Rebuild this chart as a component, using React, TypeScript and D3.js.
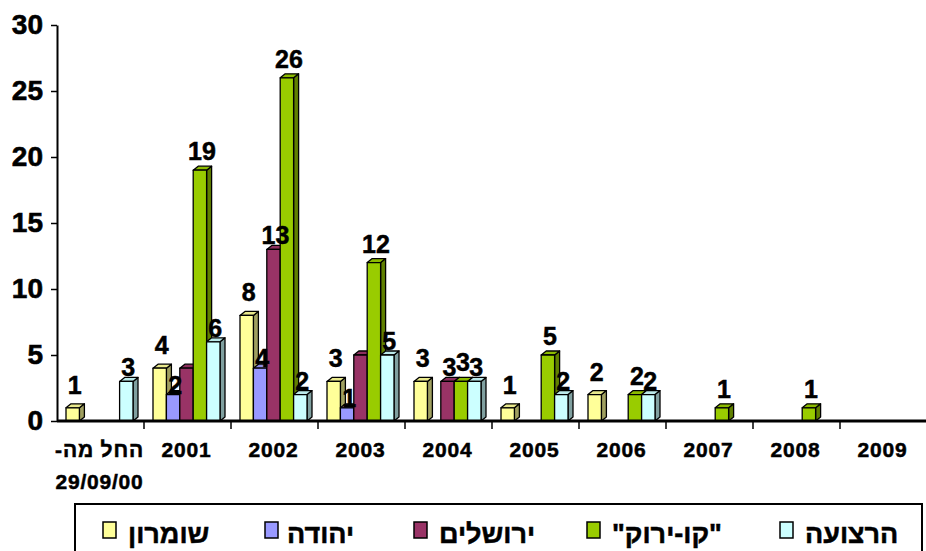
import React, { useRef, useEffect } from 'react';
import * as d3 from 'd3';

// categories (first one is two lines)
const categories = ['החל מה-\u200F\n29/09/00', '2001', '2002', '2003', '2004', '2005', '2006', '2007', '2008', '2009'];

const seriesNames = ['שומרון', 'יהודה', 'ירושלים', '"קו-ירוק"', 'הרצועה'];
const seriesColors = ['#FFFF99', '#9999FF', '#993366', '#99CC00', '#CCFFFF'];

const shomron = [1, 4, 8, 3, 3, 1, 2, 0, 0, 0];
const yehuda = [0, 2, 4, 1, 0, 0, 0, 0, 0, 0];
const yerushalayim = [0, 4, 13, 5, 3, 0, 0, 0, 0, 0];
const kavYarok = [0, 19, 26, 12, 3, 5, 2, 1, 1, 0];
const retzua = [3, 6, 2, 5, 3, 2, 2, 0, 0, 0];

const seriesValues = [shomron, yehuda, yerushalayim, kavYarok, retzua];

const yTicks = [0, 5, 10, 15, 20, 25, 30];

// labels that the source chart does not show
const hiddenLabels = [
  { cat: '2001', series: 'ירושלים' },
  { cat: '2003', series: 'ירושלים' }
];

const FONT = '"Liberation Sans", Arial, sans-serif';

const App: React.FC = () => {
  const svgRef = useRef<SVGSVGElement>(null);

  useEffect(() => {
    if (!svgRef.current) return;
    const svg = d3.select(svgRef.current);
    svg.selectAll('*').remove();

    const width = 926;
    const height = 551;
    const plot = { left: 57, right: 927, top: 25, bottom: 421 };
    const depth = { dx: 5, dy: 4 };

    svg.append('rect').attr('width', width).attr('height', height).attr('fill', '#fff');

    const x0 = d3.scaleBand<string>()
      .domain(categories)
      .range([plot.left, plot.right])
      .padding(0);

    const x1 = d3.scaleBand<string>()
      .domain(seriesNames)
      .range([9, 76])
      .padding(0);

    const y = d3.scaleLinear()
      .domain([0, 30])
      .range([plot.bottom, plot.top]);

    // y axis
    const yAxis = d3.axisLeft(y)
      .tickValues(yTicks)
      .tickSize(6)
      .tickSizeOuter(0)
      .tickPadding(8)
      .tickFormat(d3.format('d'));

    const yg = svg.append('g')
      .attr('transform', `translate(${plot.left},0)`)
      .call(yAxis);
    yg.select('.domain').attr('stroke', '#000').attr('stroke-width', 2);
    yg.selectAll('.tick line').attr('stroke', '#000').attr('stroke-width', 1.5);
    yg.selectAll('.tick text')
      .attr('fill', '#000')
      .attr('stroke', '#000')
      .attr('stroke-width', 0.6)
      .style('font-family', FONT)
      .style('font-weight', 'bold')
      .style('font-size', '28px');

    // bars
    const bars = svg.append('g');
    categories.forEach((cat, ci) => {
      seriesNames.forEach((name, si) => {
        const v = seriesValues[si][ci];
        if (!v) return;
        const bx = (x0(cat) || 0) + (x1(name) || 0);
        const bw = x1.bandwidth();
        const top = y(v);
        const base = y(0);
        const c = d3.color(seriesColors[si])!;
        const side = c.darker(1.3).formatHex();
        const topC = c.darker(0.25).formatHex();
        const g = bars.append('g')
          .attr('stroke', '#000')
          .attr('stroke-width', 1.3)
          .attr('stroke-linejoin', 'round');
        g.append('polygon')
          .attr('points', [
            [bx + bw, top], [bx + bw + depth.dx, top - depth.dy],
            [bx + bw + depth.dx, base - depth.dy], [bx + bw, base]
          ].map(p => p.join(',')).join(' '))
          .attr('fill', side);
        g.append('polygon')
          .attr('points', [
            [bx, top], [bx + depth.dx, top - depth.dy],
            [bx + bw + depth.dx, top - depth.dy], [bx + bw, top]
          ].map(p => p.join(',')).join(' '))
          .attr('fill', topC);
        g.append('rect')
          .attr('x', bx)
          .attr('y', top)
          .attr('width', bw)
          .attr('height', base - top)
          .attr('fill', seriesColors[si]);
      });
    });

    // x axis line + boundary ticks
    svg.append('line')
      .attr('x1', plot.left).attr('x2', plot.right)
      .attr('y1', plot.bottom).attr('y2', plot.bottom)
      .attr('stroke', '#000').attr('stroke-width', 3);

    svg.append('g')
      .selectAll('line')
      .data(categories.slice(1))
      .enter()
      .append('line')
      .attr('x1', d => x0(d) || 0)
      .attr('x2', d => x0(d) || 0)
      .attr('y1', plot.bottom)
      .attr('y2', plot.bottom + 8)
      .attr('stroke', '#000')
      .attr('stroke-width', 1.5);

    // category labels
    const catLabels = svg.append('g')
      .style('font-family', FONT)
      .style('font-weight', 'bold')
      .style('font-size', '21px')
      .attr('text-anchor', 'middle')
      .attr('fill', '#000')
      .attr('stroke', '#000')
      .attr('stroke-width', 0.5);
    categories.forEach(cat => {
      const cx = (x0(cat) || 0) + x0.bandwidth() / 2 - 1;
      cat.split('\n').forEach((line, li) => {
        catLabels.append('text')
          .attr('x', cx)
          .attr('y', 457 + li * 32)
          .attr('letter-spacing', '0.8px')
          .text(line);
      });
    });

    // value labels
    const labelGap = [14, 1, 5, 10, 5];
    const labels = svg.append('g')
      .style('font-family', FONT)
      .style('font-weight', 'bold')
      .style('font-size', '25px')
      .attr('text-anchor', 'middle')
      .attr('fill', '#000')
      .attr('stroke', '#000')
      .attr('stroke-width', 0.5);
    categories.forEach((cat, ci) => {
      seriesNames.forEach((name, si) => {
        const v = seriesValues[si][ci];
        if (!v) return;
        if (hiddenLabels.some(h => h.cat === cat && h.series === name)) return;
        const bx = (x0(cat) || 0) + (x1(name) || 0) + x1.bandwidth() / 2 + 2;
        labels.append('text')
          .attr('x', bx)
          .attr('y', y(v) - labelGap[si])
          .text(String(v));
      });
    });

    // legend
    const legendX = [103, 265, 414, 587, 780];
    const legendTextDx = [25, 22, 25, 25, 25];
    const legend = svg.append('g');
    legend.append('rect')
      .attr('x', 75).attr('y', 504)
      .attr('width', 847).attr('height', 70)
      .attr('fill', '#fff')
      .attr('stroke', '#000')
      .attr('stroke-width', 2);
    seriesNames.forEach((name, si) => {
      legend.append('rect')
        .attr('x', legendX[si])
        .attr('y', 522)
        .attr('width', 13)
        .attr('height', 16)
        .attr('fill', seriesColors[si])
        .attr('stroke', '#000')
        .attr('stroke-width', 1.5);
      legend.append('text')
        .attr('x', legendX[si] + legendTextDx[si])
        .attr('y', 543)
        .attr('fill', '#000')
        .attr('stroke', '#000')
        .attr('stroke-width', 0.5)
        .style('font-family', FONT)
        .style('font-weight', 'bold')
        .style('font-size', '27px')
        .text(name);
    });
  }, []);

  return (
    <svg
      ref={svgRef}
      width={926}
      height={551}
      style={{ position: 'fixed', left: 0, top: 0, display: 'block' }}
      viewBox="0 0 926 551"
    />
  );
};

export default App;
